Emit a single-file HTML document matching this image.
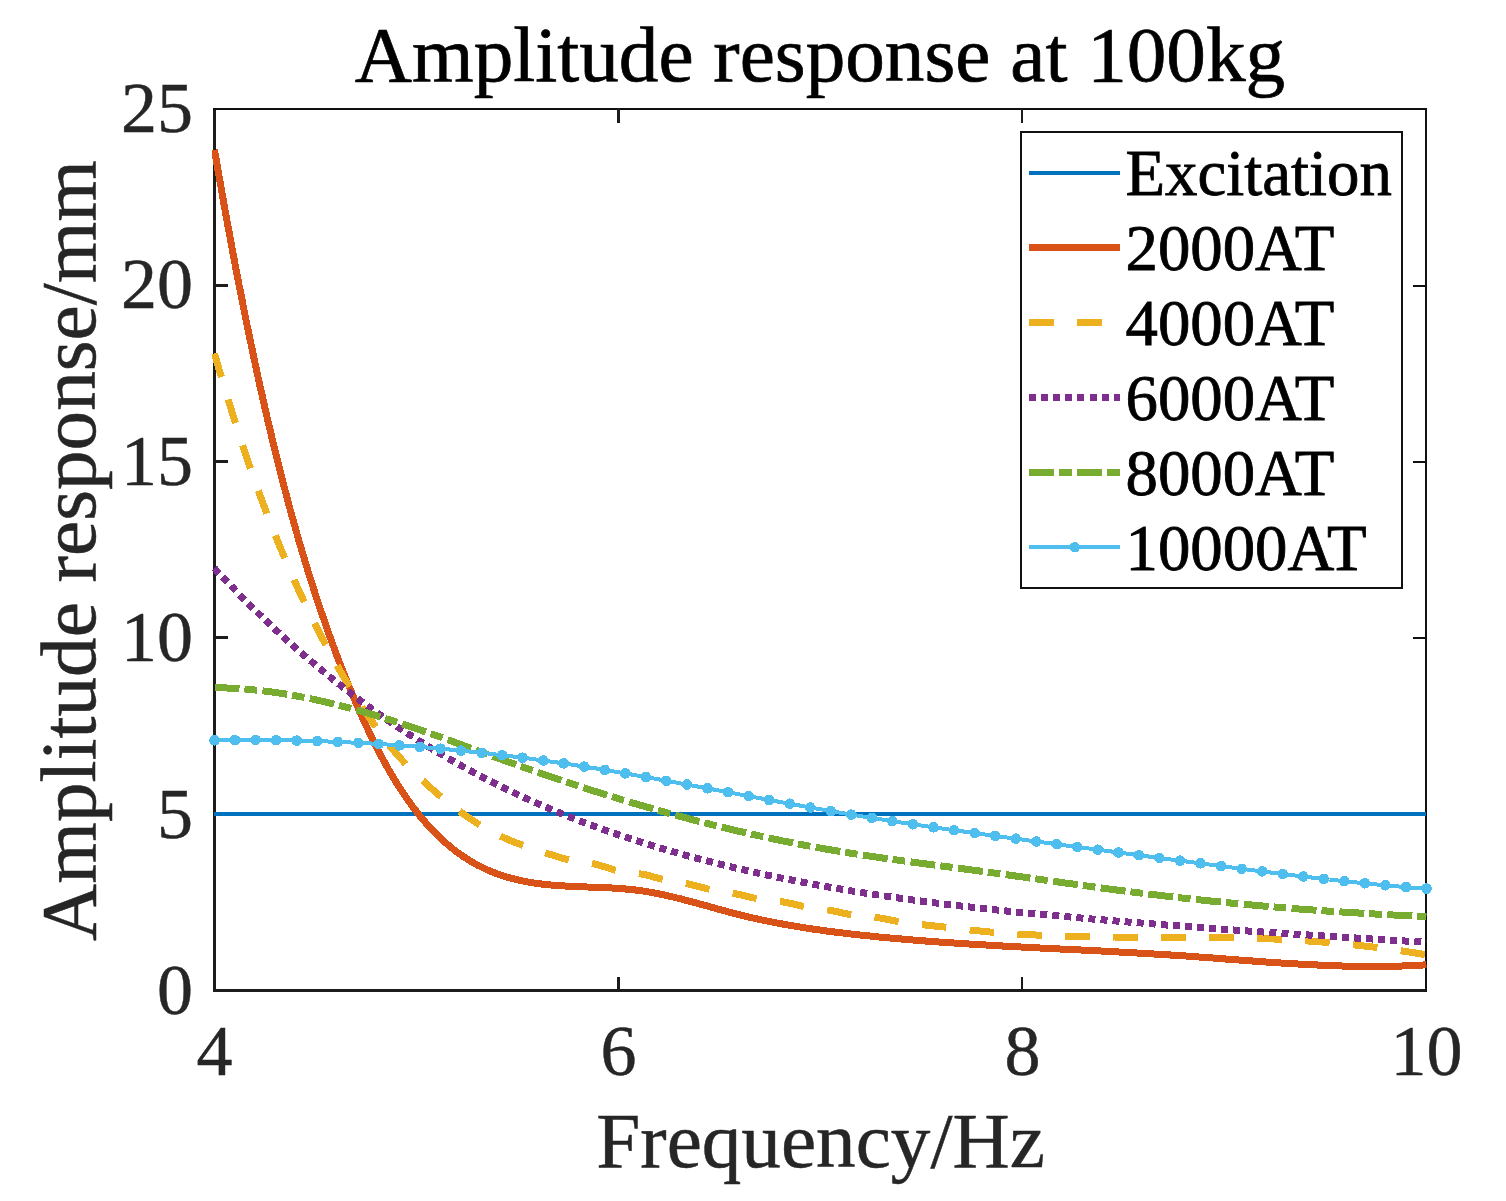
<!DOCTYPE html>
<html lang="en"><head><meta charset="utf-8"><title>Amplitude response at 100kg</title>
<style>html,body{margin:0;padding:0;background:#fff}svg{display:block}text{font-family:"Liberation Serif",serif}</style>
</head><body>
<svg width="1506" height="1201" viewBox="0 0 1506 1201">
<rect width="1506" height="1201" fill="#fff"/>
<defs><clipPath id="pc"><rect x="212" y="107" width="1214.5" height="886"/></clipPath></defs>
<g fill="#1c1c1c" shape-rendering="crispEdges">
<rect x="213" y="108" width="3" height="884"/>
<rect x="213" y="989" width="1214" height="3"/>
<rect x="213" y="108" width="1214" height="2" fill="#0f0f0f"/>
<rect x="1425" y="108" width="2" height="884" fill="#111"/>
<rect x="617" y="977" width="3" height="15"/>
<rect x="617" y="108" width="3" height="15"/>
<rect x="1021" y="977" width="2" height="15"/>
<rect x="1021" y="108" width="2" height="15"/>
<rect x="213" y="813" width="15" height="3"/>
<rect x="1413" y="814" width="14" height="2" fill="#111"/>
<rect x="213" y="636" width="15" height="3"/>
<rect x="1413" y="637" width="14" height="2" fill="#111"/>
<rect x="213" y="460" width="15" height="3"/>
<rect x="1413" y="461" width="14" height="2" fill="#111"/>
<rect x="213" y="284" width="15" height="3"/>
<rect x="1413" y="285" width="14" height="2" fill="#111"/>
</g>
<g fill="none" stroke-linejoin="round" clip-path="url(#pc)" shape-rendering="crispEdges">
<line x1="214" y1="814" x2="1426" y2="814" stroke="#0072BD" stroke-width="4"/>
<polyline points="214.5,149.8 217.5,167.4 220.6,184.8 223.6,201.9 226.6,218.8 229.7,235.3 232.7,251.6 235.7,267.6 238.7,283.3 241.8,298.7 244.8,313.9 247.8,328.8 250.9,343.4 253.9,357.8 256.9,371.8 259.9,385.7 263.0,399.2 266.0,412.5 269.0,425.6 272.1,438.4 275.1,450.9 278.1,463.2 281.2,475.2 284.2,486.9 287.2,498.4 290.2,509.7 293.3,520.7 296.3,531.5 299.3,542.1 302.4,552.4 305.4,562.5 308.4,572.4 311.5,582.1 314.5,591.5 317.5,600.8 320.6,609.9 323.6,618.7 326.6,627.4 329.6,635.9 332.7,644.3 335.7,652.4 338.7,660.4 341.8,668.3 344.8,675.9 347.8,683.5 350.9,690.8 353.9,698.0 356.9,705.1 359.9,712.0 363.0,718.8 366.0,725.4 369.0,731.8 372.1,738.1 375.1,744.2 378.1,750.2 381.1,756.0 384.2,761.6 387.2,767.0 390.2,772.3 393.3,777.5 396.3,782.4 399.3,787.3 402.4,791.9 405.4,796.4 408.4,800.7 411.4,804.9 414.5,809.0 417.5,812.9 420.5,816.7 423.6,820.3 426.6,823.8 429.6,827.1 432.7,830.4 435.7,833.5 438.7,836.5 441.8,839.3 444.8,842.1 447.8,844.7 450.8,847.3 453.9,849.7 456.9,852.0 459.9,854.2 463.0,856.3 466.0,858.3 469.0,860.2 472.1,862.0 475.1,863.8 478.1,865.4 481.1,866.9 484.2,868.4 487.2,869.8 490.2,871.1 493.3,872.3 496.3,873.5 499.3,874.6 502.3,875.6 505.4,876.6 508.4,877.5 511.4,878.3 514.5,879.1 517.5,879.8 520.5,880.5 523.6,881.1 526.6,881.7 529.6,882.3 532.6,882.8 535.7,883.2 538.7,883.6 541.7,884.0 544.8,884.4 547.8,884.7 550.8,885.0 553.9,885.2 556.9,885.5 559.9,885.7 563.0,885.9 566.0,886.1 569.0,886.2 572.0,886.4 575.1,886.5 578.1,886.6 581.1,886.7 584.2,886.8 587.2,887.0 590.2,887.1 593.2,887.2 596.3,887.3 599.3,887.4 602.3,887.5 605.4,887.7 608.4,887.8 611.4,888.0 614.5,888.1 617.5,888.3 620.5,888.6 623.5,888.8 626.6,889.1 629.6,889.3 632.6,889.7 635.7,890.0 638.7,890.4 641.7,890.8 644.8,891.3 647.8,891.8 650.8,892.3 653.8,892.9 656.9,893.5 659.9,894.1 662.9,894.7 666.0,895.4 669.0,896.1 672.0,896.8 675.1,897.5 678.1,898.3 681.1,899.0 684.1,899.8 687.2,900.6 690.2,901.4 693.2,902.2 696.3,903.0 699.3,903.9 702.3,904.7 705.4,905.5 708.4,906.4 711.4,907.2 714.5,908.1 717.5,908.9 720.5,909.7 723.5,910.6 726.6,911.4 729.6,912.2 732.6,913.0 735.7,913.8 738.7,914.6 741.7,915.3 744.8,916.1 747.8,916.8 750.8,917.5 753.8,918.2 756.9,918.9 759.9,919.5 762.9,920.2 766.0,920.8 769.0,921.4 772.0,922.0 775.0,922.6 778.1,923.2 781.1,923.8 784.1,924.3 787.2,924.9 790.2,925.4 793.2,925.9 796.3,926.4 799.3,926.9 802.3,927.4 805.3,927.9 808.4,928.4 811.4,928.8 814.4,929.3 817.5,929.7 820.5,930.1 823.5,930.6 826.6,931.0 829.6,931.4 832.6,931.8 835.6,932.1 838.7,932.5 841.7,932.9 844.7,933.2 847.8,933.6 850.8,934.0 853.8,934.3 856.9,934.6 859.9,935.0 862.9,935.3 865.9,935.6 869.0,935.9 872.0,936.2 875.0,936.6 878.1,936.9 881.1,937.2 884.1,937.4 887.2,937.7 890.2,938.0 893.2,938.3 896.2,938.6 899.3,938.8 902.3,939.1 905.3,939.4 908.4,939.6 911.4,939.9 914.4,940.1 917.5,940.4 920.5,940.6 923.5,940.8 926.5,941.1 929.6,941.3 932.6,941.5 935.6,941.8 938.7,942.0 941.7,942.2 944.7,942.4 947.8,942.6 950.8,942.8 953.8,943.0 956.8,943.2 959.9,943.4 962.9,943.6 965.9,943.8 969.0,944.0 972.0,944.2 975.0,944.4 978.1,944.6 981.1,944.8 984.1,944.9 987.1,945.1 990.2,945.3 993.2,945.5 996.2,945.6 999.3,945.8 1002.3,946.0 1005.3,946.2 1008.4,946.3 1011.4,946.5 1014.4,946.6 1017.4,946.8 1020.5,947.0 1023.5,947.1 1026.5,947.3 1029.6,947.4 1032.6,947.6 1035.6,947.7 1038.7,947.9 1041.7,948.1 1044.7,948.2 1047.8,948.4 1050.8,948.5 1053.8,948.7 1056.8,948.8 1059.9,949.0 1062.9,949.1 1065.9,949.3 1069.0,949.4 1072.0,949.6 1075.0,949.7 1078.0,949.9 1081.1,950.0 1084.1,950.2 1087.1,950.3 1090.2,950.5 1093.2,950.6 1096.2,950.8 1099.3,950.9 1102.3,951.1 1105.3,951.3 1108.3,951.4 1111.4,951.6 1114.4,951.7 1117.4,951.9 1120.5,952.1 1123.5,952.2 1126.5,952.4 1129.6,952.6 1132.6,952.7 1135.6,952.9 1138.7,953.1 1141.7,953.2 1144.7,953.4 1147.7,953.6 1150.8,953.8 1153.8,954.0 1156.8,954.2 1159.9,954.3 1162.9,954.5 1165.9,954.7 1168.9,954.9 1172.0,955.1 1175.0,955.3 1178.0,955.5 1181.1,955.7 1184.1,955.9 1187.1,956.1 1190.2,956.4 1193.2,956.6 1196.2,956.8 1199.2,957.0 1202.3,957.2 1205.3,957.5 1208.3,957.7 1211.4,957.9 1214.4,958.1 1217.4,958.4 1220.5,958.6 1223.5,958.8 1226.5,959.1 1229.5,959.3 1232.6,959.5 1235.6,959.7 1238.6,960.0 1241.7,960.2 1244.7,960.4 1247.7,960.6 1250.8,960.9 1253.8,961.1 1256.8,961.3 1259.8,961.5 1262.9,961.7 1265.9,962.0 1268.9,962.2 1272.0,962.4 1275.0,962.6 1278.0,962.8 1281.1,963.0 1284.1,963.2 1287.1,963.4 1290.1,963.6 1293.2,963.7 1296.2,963.9 1299.2,964.1 1302.3,964.3 1305.3,964.4 1308.3,964.6 1311.4,964.8 1314.4,964.9 1317.4,965.0 1320.4,965.2 1323.5,965.3 1326.5,965.4 1329.5,965.6 1332.6,965.7 1335.6,965.8 1338.6,965.9 1341.7,966.0 1344.7,966.1 1347.7,966.1 1350.8,966.2 1353.8,966.3 1356.8,966.3 1359.8,966.4 1362.9,966.4 1365.9,966.4 1368.9,966.4 1372.0,966.5 1375.0,966.5 1378.0,966.5 1381.0,966.4 1384.1,966.4 1387.1,966.4 1390.1,966.3 1393.2,966.3 1396.2,966.2 1399.2,966.1 1402.3,966.0 1405.3,965.9 1408.3,965.8 1411.3,965.7 1414.4,965.5 1417.4,965.4 1420.4,965.2 1423.5,965.0 1426.5,964.9" stroke="#D95319" stroke-width="7"/>
<polyline points="214.5,353.5 217.5,364.1 220.6,374.5 223.6,384.7 226.6,394.8 229.7,404.7 232.7,414.4 235.7,424.0 238.7,433.4 241.8,442.7 244.8,451.8 247.8,460.7 250.9,469.5 253.9,478.2 256.9,486.7 259.9,495.0 263.0,503.2 266.0,511.3 269.0,519.2 272.1,527.0 275.1,534.7 278.1,542.3 281.2,549.7 284.2,556.9 287.2,564.1 290.2,571.1 293.3,578.0 296.3,584.8 299.3,591.5 302.4,598.0 305.4,604.5 308.4,610.8 311.5,617.0 314.5,623.1 317.5,629.1 320.6,635.0 323.6,640.8 326.6,646.5 329.6,652.2 332.7,657.7 335.7,663.1 338.7,668.4 341.8,673.7 344.8,678.8 347.8,683.9 350.9,688.9 353.9,693.8 356.9,698.6 359.9,703.4 363.0,708.1 366.0,712.7 369.0,717.2 372.1,721.7 375.1,726.1 378.1,730.3 381.1,734.5 384.2,738.6 387.2,742.5 390.2,746.3 393.3,750.0 396.3,753.6 399.3,757.0 402.4,760.4 405.4,763.6 408.4,766.8 411.4,769.8 414.5,772.8 417.5,775.7 420.5,778.6 423.6,781.4 426.6,784.2 429.6,786.9 432.7,789.6 435.7,792.2 438.7,794.8 441.8,797.3 444.8,799.8 447.8,802.3 450.8,804.7 453.9,807.0 456.9,809.3 459.9,811.5 463.0,813.7 466.0,815.9 469.0,817.9 472.1,820.0 475.1,821.9 478.1,823.8 481.1,825.7 484.2,827.5 487.2,829.2 490.2,830.9 493.3,832.5 496.3,834.1 499.3,835.6 502.3,837.0 505.4,838.4 508.4,839.7 511.4,841.0 514.5,842.2 517.5,843.4 520.5,844.5 523.6,845.6 526.6,846.7 529.6,847.7 532.6,848.7 535.7,849.7 538.7,850.7 541.7,851.7 544.8,852.7 547.8,853.7 550.8,854.6 553.9,855.6 556.9,856.6 559.9,857.5 563.0,858.3 566.0,859.1 569.0,859.8 572.0,860.5 575.1,861.0 578.1,861.4 581.1,861.8 584.2,862.2 587.2,862.6 590.2,863.1 593.2,863.7 596.3,864.4 599.3,865.3 602.3,866.2 605.4,867.1 608.4,868.1 611.4,869.0 614.5,869.9 617.5,870.7 620.5,871.3 623.5,871.8 626.6,872.2 629.6,872.5 632.6,872.9 635.7,873.2 638.7,873.6 641.7,874.1 644.8,874.7 647.8,875.4 650.8,876.2 653.8,877.0 656.9,877.8 659.9,878.6 662.9,879.4 666.0,880.1 669.0,880.7 672.0,881.2 675.1,881.7 678.1,882.1 681.1,882.6 684.1,883.1 687.2,883.7 690.2,884.3 693.2,885.1 696.3,885.9 699.3,886.7 702.3,887.5 705.4,888.4 708.4,889.1 711.4,889.9 714.5,890.5 717.5,891.0 720.5,891.5 723.5,891.9 726.6,892.4 729.6,892.8 732.6,893.3 735.7,893.8 738.7,894.4 741.7,895.1 744.8,895.8 747.8,896.6 750.8,897.3 753.8,898.0 756.9,898.6 759.9,899.2 762.9,899.6 766.0,900.0 769.0,900.3 772.0,900.6 775.0,900.9 778.1,901.2 781.1,901.6 784.1,902.1 787.2,902.7 790.2,903.3 793.2,904.0 796.3,904.7 799.3,905.5 802.3,906.2 805.3,906.8 808.4,907.4 811.4,907.9 814.4,908.3 817.5,908.7 820.5,909.0 823.5,909.4 826.6,909.8 829.6,910.3 832.6,910.8 835.6,911.5 838.7,912.1 841.7,912.8 844.7,913.4 847.8,914.1 850.8,914.6 853.8,915.2 856.9,915.6 859.9,916.0 862.9,916.3 865.9,916.5 869.0,916.8 872.0,917.0 875.0,917.4 878.1,917.7 881.1,918.2 884.1,918.7 887.2,919.3 890.2,919.9 893.2,920.5 896.2,921.1 899.3,921.6 902.3,922.2 905.3,922.6 908.4,923.1 911.4,923.5 914.4,923.8 917.5,924.1 920.5,924.5 923.5,924.8 926.5,925.1 929.6,925.4 932.6,925.8 935.6,926.1 938.7,926.4 941.7,926.8 944.7,927.1 947.8,927.5 950.8,927.8 953.8,928.2 956.8,928.5 959.9,928.9 962.9,929.2 965.9,929.6 969.0,929.9 972.0,930.2 975.0,930.5 978.1,930.8 981.1,931.1 984.1,931.4 987.1,931.7 990.2,932.0 993.2,932.2 996.2,932.5 999.3,932.7 1002.3,932.9 1005.3,933.2 1008.4,933.4 1011.4,933.6 1014.4,933.8 1017.4,934.0 1020.5,934.2 1023.5,934.4 1026.5,934.5 1029.6,934.7 1032.6,934.9 1035.6,935.0 1038.7,935.2 1041.7,935.3 1044.7,935.4 1047.8,935.6 1050.8,935.7 1053.8,935.8 1056.8,935.9 1059.9,936.0 1062.9,936.1 1065.9,936.2 1069.0,936.3 1072.0,936.4 1075.0,936.4 1078.0,936.5 1081.1,936.6 1084.1,936.6 1087.1,936.7 1090.2,936.8 1093.2,936.8 1096.2,936.8 1099.3,936.9 1102.3,936.9 1105.3,937.0 1108.3,937.0 1111.4,937.0 1114.4,937.0 1117.4,937.1 1120.5,937.1 1123.5,937.1 1126.5,937.1 1129.6,937.1 1132.6,937.1 1135.6,937.1 1138.7,937.2 1141.7,937.2 1144.7,937.2 1147.7,937.2 1150.8,937.2 1153.8,937.2 1156.8,937.2 1159.9,937.2 1162.9,937.2 1165.9,937.2 1168.9,937.2 1172.0,937.2 1175.0,937.2 1178.0,937.2 1181.1,937.2 1184.1,937.2 1187.1,937.3 1190.2,937.3 1193.2,937.3 1196.2,937.3 1199.2,937.3 1202.3,937.3 1205.3,937.4 1208.3,937.4 1211.4,937.4 1214.4,937.5 1217.4,937.5 1220.5,937.5 1223.5,937.6 1226.5,937.6 1229.5,937.7 1232.6,937.7 1235.6,937.8 1238.6,937.9 1241.7,937.9 1244.7,938.0 1247.7,938.1 1250.8,938.2 1253.8,938.3 1256.8,938.4 1259.8,938.5 1262.9,938.6 1265.9,938.7 1268.9,938.8 1272.0,938.9 1275.0,939.1 1278.0,939.2 1281.1,939.4 1284.1,939.5 1287.1,939.7 1290.1,939.8 1293.2,940.0 1296.2,940.2 1299.2,940.4 1302.3,940.6 1305.3,940.8 1308.3,941.0 1311.4,941.2 1314.4,941.4 1317.4,941.6 1320.4,941.9 1323.5,942.1 1326.5,942.3 1329.5,942.6 1332.6,942.9 1335.6,943.1 1338.6,943.4 1341.7,943.7 1344.7,944.0 1347.7,944.3 1350.8,944.6 1353.8,944.9 1356.8,945.2 1359.8,945.6 1362.9,945.9 1365.9,946.2 1368.9,946.6 1372.0,946.9 1375.0,947.3 1378.0,947.7 1381.0,948.1 1384.1,948.5 1387.1,948.9 1390.1,949.3 1393.2,949.7 1396.2,950.1 1399.2,950.5 1402.3,951.0 1405.3,951.4 1408.3,951.9 1411.3,952.4 1414.4,952.8 1417.4,953.3 1420.4,953.8 1423.5,954.3 1426.5,954.8" stroke="#EDB120" stroke-width="7" stroke-dasharray="24.5 23.5"/>
<polyline points="214.5,568.3 217.5,571.6 220.6,574.8 223.6,578.0 226.6,581.2 229.7,584.4 232.7,587.5 235.7,590.7 238.7,593.8 241.8,596.9 244.8,599.9 247.8,603.0 250.9,606.0 253.9,609.0 256.9,611.9 259.9,614.9 263.0,617.8 266.0,620.7 269.0,623.6 272.1,626.4 275.1,629.3 278.1,632.1 281.2,634.9 284.2,637.6 287.2,640.4 290.2,643.1 293.3,645.8 296.3,648.5 299.3,651.2 302.4,653.8 305.4,656.4 308.4,659.0 311.5,661.6 314.5,664.2 317.5,666.7 320.6,669.2 323.6,671.7 326.6,674.2 329.6,676.7 332.7,679.1 335.7,681.5 338.7,683.9 341.8,686.3 344.8,688.7 347.8,691.0 350.9,693.4 353.9,695.7 356.9,697.9 359.9,700.2 363.0,702.5 366.0,704.7 369.0,706.9 372.1,709.1 375.1,711.3 378.1,713.4 381.1,715.5 384.2,717.7 387.2,719.8 390.2,721.8 393.3,723.9 396.3,725.9 399.3,728.0 402.4,730.0 405.4,732.0 408.4,734.0 411.4,735.9 414.5,737.9 417.5,739.8 420.5,741.7 423.6,743.6 426.6,745.5 429.6,747.3 432.7,749.2 435.7,751.0 438.7,752.8 441.8,754.6 444.8,756.4 447.8,758.1 450.8,759.9 453.9,761.6 456.9,763.3 459.9,765.0 463.0,766.7 466.0,768.4 469.0,770.0 472.1,771.7 475.1,773.3 478.1,774.9 481.1,776.5 484.2,778.1 487.2,779.6 490.2,781.2 493.3,782.7 496.3,784.2 499.3,785.7 502.3,787.2 505.4,788.7 508.4,790.2 511.4,791.6 514.5,793.0 517.5,794.5 520.5,795.9 523.6,797.3 526.6,798.7 529.6,800.0 532.6,801.4 535.7,802.7 538.7,804.1 541.7,805.4 544.8,806.7 547.8,808.0 550.8,809.3 553.9,810.5 556.9,811.8 559.9,813.0 563.0,814.3 566.0,815.5 569.0,816.7 572.0,817.9 575.1,819.1 578.1,820.2 581.1,821.4 584.2,822.5 587.2,823.7 590.2,824.8 593.2,825.9 596.3,827.0 599.3,828.1 602.3,829.2 605.4,830.3 608.4,831.4 611.4,832.4 614.5,833.5 617.5,834.5 620.5,835.5 623.5,836.5 626.6,837.5 629.6,838.5 632.6,839.5 635.7,840.5 638.7,841.5 641.7,842.4 644.8,843.4 647.8,844.3 650.8,845.2 653.8,846.1 656.9,847.1 659.9,848.0 662.9,848.9 666.0,849.7 669.0,850.6 672.0,851.5 675.1,852.3 678.1,853.2 681.1,854.0 684.1,854.9 687.2,855.7 690.2,856.5 693.2,857.3 696.3,858.1 699.3,858.9 702.3,859.7 705.4,860.5 708.4,861.3 711.4,862.1 714.5,862.8 717.5,863.6 720.5,864.3 723.5,865.1 726.6,865.8 729.6,866.6 732.6,867.3 735.7,868.0 738.7,868.7 741.7,869.4 744.8,870.1 747.8,870.8 750.8,871.5 753.8,872.2 756.9,872.8 759.9,873.5 762.9,874.2 766.0,874.8 769.0,875.5 772.0,876.1 775.0,876.7 778.1,877.4 781.1,878.0 784.1,878.6 787.2,879.2 790.2,879.8 793.2,880.4 796.3,881.0 799.3,881.6 802.3,882.2 805.3,882.7 808.4,883.3 811.4,883.9 814.4,884.4 817.5,885.0 820.5,885.6 823.5,886.1 826.6,886.6 829.6,887.2 832.6,887.7 835.6,888.2 838.7,888.7 841.7,889.3 844.7,889.8 847.8,890.3 850.8,890.8 853.8,891.3 856.9,891.7 859.9,892.2 862.9,892.7 865.9,893.2 869.0,893.7 872.0,894.1 875.0,894.6 878.1,895.0 881.1,895.5 884.1,895.9 887.2,896.4 890.2,896.8 893.2,897.3 896.2,897.7 899.3,898.1 902.3,898.6 905.3,899.0 908.4,899.4 911.4,899.8 914.4,900.2 917.5,900.6 920.5,901.0 923.5,901.4 926.5,901.8 929.6,902.2 932.6,902.6 935.6,903.0 938.7,903.3 941.7,903.7 944.7,904.1 947.8,904.4 950.8,904.8 953.8,905.2 956.8,905.5 959.9,905.9 962.9,906.2 965.9,906.6 969.0,906.9 972.0,907.3 975.0,907.6 978.1,908.0 981.1,908.3 984.1,908.6 987.1,908.9 990.2,909.3 993.2,909.6 996.2,909.9 999.3,910.2 1002.3,910.5 1005.3,910.9 1008.4,911.2 1011.4,911.5 1014.4,911.8 1017.4,912.1 1020.5,912.4 1023.5,912.7 1026.5,913.0 1029.6,913.3 1032.6,913.6 1035.6,913.9 1038.7,914.2 1041.7,914.4 1044.7,914.7 1047.8,915.0 1050.8,915.3 1053.8,915.6 1056.8,915.8 1059.9,916.1 1062.9,916.4 1065.9,916.7 1069.0,916.9 1072.0,917.2 1075.0,917.5 1078.0,917.7 1081.1,918.0 1084.1,918.3 1087.1,918.5 1090.2,918.8 1093.2,919.1 1096.2,919.3 1099.3,919.6 1102.3,919.8 1105.3,920.1 1108.3,920.4 1111.4,920.6 1114.4,920.9 1117.4,921.1 1120.5,921.4 1123.5,921.6 1126.5,921.9 1129.6,922.1 1132.6,922.4 1135.6,922.6 1138.7,922.8 1141.7,923.1 1144.7,923.3 1147.7,923.6 1150.8,923.8 1153.8,924.0 1156.8,924.3 1159.9,924.5 1162.9,924.8 1165.9,925.0 1168.9,925.2 1172.0,925.5 1175.0,925.7 1178.0,925.9 1181.1,926.1 1184.1,926.4 1187.1,926.6 1190.2,926.8 1193.2,927.1 1196.2,927.3 1199.2,927.5 1202.3,927.7 1205.3,927.9 1208.3,928.2 1211.4,928.4 1214.4,928.6 1217.4,928.8 1220.5,929.0 1223.5,929.3 1226.5,929.5 1229.5,929.7 1232.6,929.9 1235.6,930.1 1238.6,930.3 1241.7,930.5 1244.7,930.8 1247.7,931.0 1250.8,931.2 1253.8,931.4 1256.8,931.6 1259.8,931.8 1262.9,932.0 1265.9,932.2 1268.9,932.4 1272.0,932.6 1275.0,932.8 1278.0,933.0 1281.1,933.2 1284.1,933.4 1287.1,933.6 1290.1,933.8 1293.2,934.0 1296.2,934.2 1299.2,934.4 1302.3,934.6 1305.3,934.8 1308.3,935.0 1311.4,935.2 1314.4,935.4 1317.4,935.6 1320.4,935.8 1323.5,936.0 1326.5,936.2 1329.5,936.4 1332.6,936.6 1335.6,936.8 1338.6,937.0 1341.7,937.2 1344.7,937.3 1347.7,937.5 1350.8,937.7 1353.8,937.9 1356.8,938.1 1359.8,938.3 1362.9,938.5 1365.9,938.7 1368.9,938.8 1372.0,939.0 1375.0,939.2 1378.0,939.4 1381.0,939.6 1384.1,939.8 1387.1,940.0 1390.1,940.1 1393.2,940.3 1396.2,940.5 1399.2,940.7 1402.3,940.9 1405.3,941.0 1408.3,941.2 1411.3,941.4 1414.4,941.6 1417.4,941.8 1420.4,941.9 1423.5,942.1 1426.5,942.3" stroke="#7E2F8E" stroke-width="7" stroke-dasharray="7 5.1"/>
<polyline points="214.5,687.7 217.5,687.7 220.6,687.8 223.6,687.9 226.6,688.0 229.7,688.1 232.7,688.2 235.7,688.4 238.7,688.6 241.8,688.8 244.8,689.0 247.8,689.3 250.9,689.6 253.9,689.9 256.9,690.2 259.9,690.5 263.0,690.9 266.0,691.2 269.0,691.6 272.1,692.0 275.1,692.5 278.1,692.9 281.2,693.4 284.2,693.8 287.2,694.3 290.2,694.8 293.3,695.4 296.3,695.9 299.3,696.5 302.4,697.1 305.4,697.7 308.4,698.3 311.5,698.9 314.5,699.5 317.5,700.2 320.6,700.9 323.6,701.6 326.6,702.3 329.6,703.0 332.7,703.7 335.7,704.5 338.7,705.2 341.8,706.0 344.8,706.8 347.8,707.6 350.9,708.4 353.9,709.2 356.9,710.1 359.9,710.9 363.0,711.8 366.0,712.6 369.0,713.5 372.1,714.4 375.1,715.3 378.1,716.3 381.1,717.2 384.2,718.1 387.2,719.1 390.2,720.0 393.3,721.0 396.3,722.0 399.3,723.0 402.4,724.0 405.4,725.0 408.4,726.0 411.4,727.0 414.5,728.0 417.5,729.1 420.5,730.1 423.6,731.2 426.6,732.2 429.6,733.3 432.7,734.4 435.7,735.4 438.7,736.5 441.8,737.6 444.8,738.7 447.8,739.8 450.8,740.9 453.9,742.0 456.9,743.1 459.9,744.2 463.0,745.4 466.0,746.5 469.0,747.6 472.1,748.7 475.1,749.8 478.1,750.9 481.1,752.0 484.2,753.1 487.2,754.3 490.2,755.4 493.3,756.5 496.3,757.6 499.3,758.7 502.3,759.8 505.4,760.9 508.4,762.0 511.4,763.0 514.5,764.1 517.5,765.2 520.5,766.3 523.6,767.3 526.6,768.4 529.6,769.5 532.6,770.5 535.7,771.6 538.7,772.6 541.7,773.7 544.8,774.7 547.8,775.7 550.8,776.8 553.9,777.8 556.9,778.8 559.9,779.8 563.0,780.9 566.0,781.9 569.0,782.9 572.0,783.9 575.1,784.9 578.1,785.9 581.1,786.8 584.2,787.8 587.2,788.8 590.2,789.8 593.2,790.8 596.3,791.7 599.3,792.7 602.3,793.6 605.4,794.6 608.4,795.5 611.4,796.5 614.5,797.4 617.5,798.3 620.5,799.3 623.5,800.2 626.6,801.1 629.6,802.0 632.6,802.9 635.7,803.8 638.7,804.7 641.7,805.6 644.8,806.5 647.8,807.4 650.8,808.2 653.8,809.1 656.9,810.0 659.9,810.8 662.9,811.7 666.0,812.5 669.0,813.4 672.0,814.2 675.1,815.0 678.1,815.9 681.1,816.7 684.1,817.5 687.2,818.3 690.2,819.1 693.2,819.9 696.3,820.7 699.3,821.5 702.3,822.3 705.4,823.1 708.4,823.8 711.4,824.6 714.5,825.4 717.5,826.1 720.5,826.9 723.5,827.6 726.6,828.3 729.6,829.1 732.6,829.8 735.7,830.5 738.7,831.2 741.7,831.9 744.8,832.6 747.8,833.3 750.8,834.0 753.8,834.7 756.9,835.4 759.9,836.0 762.9,836.7 766.0,837.4 769.0,838.0 772.0,838.7 775.0,839.3 778.1,839.9 781.1,840.6 784.1,841.2 787.2,841.8 790.2,842.4 793.2,843.0 796.3,843.6 799.3,844.2 802.3,844.8 805.3,845.3 808.4,845.9 811.4,846.5 814.4,847.0 817.5,847.6 820.5,848.1 823.5,848.7 826.6,849.2 829.6,849.7 832.6,850.2 835.6,850.7 838.7,851.2 841.7,851.7 844.7,852.2 847.8,852.7 850.8,853.2 853.8,853.7 856.9,854.1 859.9,854.6 862.9,855.1 865.9,855.5 869.0,856.0 872.0,856.4 875.0,856.9 878.1,857.3 881.1,857.8 884.1,858.2 887.2,858.6 890.2,859.1 893.2,859.5 896.2,859.9 899.3,860.3 902.3,860.8 905.3,861.2 908.4,861.6 911.4,862.0 914.4,862.4 917.5,862.8 920.5,863.2 923.5,863.6 926.5,864.0 929.6,864.4 932.6,864.8 935.6,865.2 938.7,865.6 941.7,866.0 944.7,866.4 947.8,866.8 950.8,867.2 953.8,867.6 956.8,868.0 959.9,868.4 962.9,868.8 965.9,869.2 969.0,869.6 972.0,870.0 975.0,870.4 978.1,870.8 981.1,871.3 984.1,871.7 987.1,872.1 990.2,872.5 993.2,872.9 996.2,873.3 999.3,873.7 1002.3,874.2 1005.3,874.6 1008.4,875.0 1011.4,875.4 1014.4,875.8 1017.4,876.3 1020.5,876.7 1023.5,877.1 1026.5,877.5 1029.6,878.0 1032.6,878.4 1035.6,878.8 1038.7,879.2 1041.7,879.7 1044.7,880.1 1047.8,880.5 1050.8,881.0 1053.8,881.4 1056.8,881.8 1059.9,882.2 1062.9,882.7 1065.9,883.1 1069.0,883.5 1072.0,883.9 1075.0,884.3 1078.0,884.8 1081.1,885.2 1084.1,885.6 1087.1,886.0 1090.2,886.4 1093.2,886.8 1096.2,887.3 1099.3,887.7 1102.3,888.1 1105.3,888.5 1108.3,888.9 1111.4,889.3 1114.4,889.7 1117.4,890.1 1120.5,890.5 1123.5,890.9 1126.5,891.3 1129.6,891.7 1132.6,892.1 1135.6,892.4 1138.7,892.8 1141.7,893.2 1144.7,893.6 1147.7,893.9 1150.8,894.3 1153.8,894.7 1156.8,895.0 1159.9,895.4 1162.9,895.8 1165.9,896.1 1168.9,896.5 1172.0,896.8 1175.0,897.2 1178.0,897.5 1181.1,897.9 1184.1,898.2 1187.1,898.5 1190.2,898.9 1193.2,899.2 1196.2,899.5 1199.2,899.8 1202.3,900.2 1205.3,900.5 1208.3,900.8 1211.4,901.1 1214.4,901.4 1217.4,901.7 1220.5,902.0 1223.5,902.3 1226.5,902.6 1229.5,902.9 1232.6,903.2 1235.6,903.5 1238.6,903.8 1241.7,904.1 1244.7,904.4 1247.7,904.6 1250.8,904.9 1253.8,905.2 1256.8,905.5 1259.8,905.7 1262.9,906.0 1265.9,906.3 1268.9,906.5 1272.0,906.8 1275.0,907.0 1278.0,907.3 1281.1,907.5 1284.1,907.8 1287.1,908.0 1290.1,908.3 1293.2,908.5 1296.2,908.8 1299.2,909.0 1302.3,909.2 1305.3,909.4 1308.3,909.7 1311.4,909.9 1314.4,910.1 1317.4,910.3 1320.4,910.6 1323.5,910.8 1326.5,911.0 1329.5,911.2 1332.6,911.4 1335.6,911.6 1338.6,911.8 1341.7,912.0 1344.7,912.2 1347.7,912.4 1350.8,912.6 1353.8,912.8 1356.8,912.9 1359.8,913.1 1362.9,913.3 1365.9,913.5 1368.9,913.7 1372.0,913.8 1375.0,914.0 1378.0,914.2 1381.0,914.3 1384.1,914.5 1387.1,914.6 1390.1,914.8 1393.2,915.0 1396.2,915.1 1399.2,915.3 1402.3,915.4 1405.3,915.5 1408.3,915.7 1411.3,915.8 1414.4,916.0 1417.4,916.1 1420.4,916.2 1423.5,916.4 1426.5,916.5" stroke="#77AC30" stroke-width="7" stroke-dasharray="25 5 12.5 5.5"/>
<polyline points="214.5,740.3 217.5,740.3 220.6,740.2 223.6,740.2 226.6,740.1 229.7,740.1 232.7,740.1 235.7,740.1 238.7,740.1 241.8,740.0 244.8,740.0 247.8,740.0 250.9,740.0 253.9,740.0 256.9,740.0 259.9,740.1 263.0,740.1 266.0,740.1 269.0,740.1 272.1,740.1 275.1,740.2 278.1,740.2 281.2,740.3 284.2,740.3 287.2,740.4 290.2,740.4 293.3,740.5 296.3,740.5 299.3,740.6 302.4,740.7 305.4,740.8 308.4,740.9 311.5,740.9 314.5,741.0 317.5,741.1 320.6,741.2 323.6,741.3 326.6,741.4 329.6,741.6 332.7,741.7 335.7,741.8 338.7,741.9 341.8,742.1 344.8,742.2 347.8,742.3 350.9,742.5 353.9,742.6 356.9,742.8 359.9,742.9 363.0,743.1 366.0,743.3 369.0,743.4 372.1,743.6 375.1,743.8 378.1,744.0 381.1,744.1 384.2,744.3 387.2,744.5 390.2,744.7 393.3,744.9 396.3,745.1 399.3,745.4 402.4,745.6 405.4,745.8 408.4,746.0 411.4,746.3 414.5,746.5 417.5,746.7 420.5,747.0 423.6,747.2 426.6,747.5 429.6,747.7 432.7,748.0 435.7,748.3 438.7,748.5 441.8,748.8 444.8,749.1 447.8,749.4 450.8,749.6 453.9,749.9 456.9,750.2 459.9,750.5 463.0,750.8 466.0,751.1 469.0,751.5 472.1,751.8 475.1,752.1 478.1,752.4 481.1,752.8 484.2,753.1 487.2,753.4 490.2,753.8 493.3,754.1 496.3,754.5 499.3,754.8 502.3,755.2 505.4,755.6 508.4,755.9 511.4,756.3 514.5,756.7 517.5,757.1 520.5,757.4 523.6,757.8 526.6,758.2 529.6,758.6 532.6,759.0 535.7,759.5 538.7,759.9 541.7,760.3 544.8,760.7 547.8,761.1 550.8,761.6 553.9,762.0 556.9,762.4 559.9,762.9 563.0,763.3 566.0,763.8 569.0,764.2 572.0,764.7 575.1,765.2 578.1,765.6 581.1,766.1 584.2,766.6 587.2,767.1 590.2,767.6 593.2,768.0 596.3,768.5 599.3,769.0 602.3,769.5 605.4,770.0 608.4,770.5 611.4,771.0 614.5,771.6 617.5,772.1 620.5,772.6 623.5,773.1 626.6,773.6 629.6,774.2 632.6,774.7 635.7,775.2 638.7,775.8 641.7,776.3 644.8,776.8 647.8,777.4 650.8,777.9 653.8,778.5 656.9,779.0 659.9,779.6 662.9,780.1 666.0,780.7 669.0,781.2 672.0,781.8 675.1,782.3 678.1,782.9 681.1,783.5 684.1,784.0 687.2,784.6 690.2,785.1 693.2,785.7 696.3,786.3 699.3,786.8 702.3,787.4 705.4,788.0 708.4,788.5 711.4,789.1 714.5,789.7 717.5,790.3 720.5,790.8 723.5,791.4 726.6,792.0 729.6,792.5 732.6,793.1 735.7,793.7 738.7,794.2 741.7,794.8 744.8,795.4 747.8,796.0 750.8,796.5 753.8,797.1 756.9,797.7 759.9,798.2 762.9,798.8 766.0,799.4 769.0,799.9 772.0,800.5 775.0,801.1 778.1,801.6 781.1,802.2 784.1,802.7 787.2,803.3 790.2,803.8 793.2,804.4 796.3,804.9 799.3,805.5 802.3,806.0 805.3,806.6 808.4,807.1 811.4,807.7 814.4,808.2 817.5,808.8 820.5,809.3 823.5,809.8 826.6,810.4 829.6,810.9 832.6,811.4 835.6,811.9 838.7,812.4 841.7,813.0 844.7,813.5 847.8,814.0 850.8,814.5 853.8,815.0 856.9,815.5 859.9,816.0 862.9,816.5 865.9,817.0 869.0,817.5 872.0,818.0 875.0,818.4 878.1,818.9 881.1,819.4 884.1,819.9 887.2,820.3 890.2,820.8 893.2,821.3 896.2,821.7 899.3,822.2 902.3,822.7 905.3,823.1 908.4,823.6 911.4,824.0 914.4,824.5 917.5,824.9 920.5,825.4 923.5,825.8 926.5,826.3 929.6,826.7 932.6,827.1 935.6,827.6 938.7,828.0 941.7,828.5 944.7,828.9 947.8,829.3 950.8,829.7 953.8,830.2 956.8,830.6 959.9,831.0 962.9,831.4 965.9,831.9 969.0,832.3 972.0,832.7 975.0,833.1 978.1,833.6 981.1,834.0 984.1,834.4 987.1,834.8 990.2,835.2 993.2,835.6 996.2,836.0 999.3,836.5 1002.3,836.9 1005.3,837.3 1008.4,837.7 1011.4,838.1 1014.4,838.5 1017.4,838.9 1020.5,839.3 1023.5,839.7 1026.5,840.2 1029.6,840.6 1032.6,841.0 1035.6,841.4 1038.7,841.8 1041.7,842.2 1044.7,842.6 1047.8,843.0 1050.8,843.4 1053.8,843.8 1056.8,844.2 1059.9,844.6 1062.9,845.1 1065.9,845.5 1069.0,845.9 1072.0,846.3 1075.0,846.7 1078.0,847.1 1081.1,847.5 1084.1,847.9 1087.1,848.3 1090.2,848.7 1093.2,849.1 1096.2,849.5 1099.3,849.9 1102.3,850.3 1105.3,850.7 1108.3,851.1 1111.4,851.5 1114.4,851.9 1117.4,852.3 1120.5,852.8 1123.5,853.2 1126.5,853.6 1129.6,854.0 1132.6,854.4 1135.6,854.8 1138.7,855.2 1141.7,855.6 1144.7,856.0 1147.7,856.4 1150.8,856.8 1153.8,857.2 1156.8,857.6 1159.9,858.0 1162.9,858.4 1165.9,858.8 1168.9,859.2 1172.0,859.6 1175.0,860.0 1178.0,860.4 1181.1,860.8 1184.1,861.2 1187.1,861.6 1190.2,862.0 1193.2,862.4 1196.2,862.8 1199.2,863.2 1202.3,863.6 1205.3,864.0 1208.3,864.4 1211.4,864.8 1214.4,865.2 1217.4,865.6 1220.5,866.0 1223.5,866.4 1226.5,866.8 1229.5,867.2 1232.6,867.6 1235.6,868.0 1238.6,868.4 1241.7,868.8 1244.7,869.2 1247.7,869.6 1250.8,870.0 1253.8,870.4 1256.8,870.7 1259.8,871.1 1262.9,871.5 1265.9,871.9 1268.9,872.3 1272.0,872.7 1275.0,873.1 1278.0,873.4 1281.1,873.8 1284.1,874.2 1287.1,874.6 1290.1,874.9 1293.2,875.3 1296.2,875.7 1299.2,876.0 1302.3,876.4 1305.3,876.8 1308.3,877.1 1311.4,877.5 1314.4,877.8 1317.4,878.2 1320.4,878.5 1323.5,878.9 1326.5,879.2 1329.5,879.6 1332.6,879.9 1335.6,880.2 1338.6,880.6 1341.7,880.9 1344.7,881.2 1347.7,881.5 1350.8,881.9 1353.8,882.2 1356.8,882.5 1359.8,882.8 1362.9,883.1 1365.9,883.4 1368.9,883.7 1372.0,884.0 1375.0,884.3 1378.0,884.6 1381.0,884.9 1384.1,885.1 1387.1,885.4 1390.1,885.7 1393.2,885.9 1396.2,886.2 1399.2,886.5 1402.3,886.7 1405.3,887.0 1408.3,887.2 1411.3,887.5 1414.4,887.7 1417.4,887.9 1420.4,888.2 1423.5,888.4 1426.5,888.6" stroke="#4DBEEE" stroke-width="4"/>
</g>
<g fill="#4DBEEE" shape-rendering="crispEdges">
<circle cx="214.5" cy="740.3" r="5.3"/>
<circle cx="235.0" cy="740.1" r="5.3"/>
<circle cx="255.6" cy="740.0" r="5.3"/>
<circle cx="276.1" cy="740.2" r="5.3"/>
<circle cx="296.7" cy="740.6" r="5.3"/>
<circle cx="317.2" cy="741.1" r="5.3"/>
<circle cx="337.8" cy="741.9" r="5.3"/>
<circle cx="358.3" cy="742.8" r="5.3"/>
<circle cx="378.8" cy="744.0" r="5.3"/>
<circle cx="399.4" cy="745.4" r="5.3"/>
<circle cx="419.9" cy="746.9" r="5.3"/>
<circle cx="440.5" cy="748.7" r="5.3"/>
<circle cx="461.0" cy="750.6" r="5.3"/>
<circle cx="481.6" cy="752.8" r="5.3"/>
<circle cx="502.1" cy="755.2" r="5.3"/>
<circle cx="522.6" cy="757.7" r="5.3"/>
<circle cx="543.2" cy="760.5" r="5.3"/>
<circle cx="563.7" cy="763.4" r="5.3"/>
<circle cx="584.3" cy="766.6" r="5.3"/>
<circle cx="604.8" cy="769.9" r="5.3"/>
<circle cx="625.3" cy="773.4" r="5.3"/>
<circle cx="645.9" cy="777.0" r="5.3"/>
<circle cx="666.4" cy="780.8" r="5.3"/>
<circle cx="687.0" cy="784.5" r="5.3"/>
<circle cx="707.5" cy="788.4" r="5.3"/>
<circle cx="728.1" cy="792.2" r="5.3"/>
<circle cx="748.6" cy="796.1" r="5.3"/>
<circle cx="769.1" cy="800.0" r="5.3"/>
<circle cx="789.7" cy="803.7" r="5.3"/>
<circle cx="810.2" cy="807.5" r="5.3"/>
<circle cx="830.8" cy="811.1" r="5.3"/>
<circle cx="851.3" cy="814.6" r="5.3"/>
<circle cx="871.9" cy="817.9" r="5.3"/>
<circle cx="892.4" cy="821.2" r="5.3"/>
<circle cx="912.9" cy="824.3" r="5.3"/>
<circle cx="933.5" cy="827.3" r="5.3"/>
<circle cx="954.0" cy="830.2" r="5.3"/>
<circle cx="974.6" cy="833.1" r="5.3"/>
<circle cx="995.1" cy="835.9" r="5.3"/>
<circle cx="1015.7" cy="838.7" r="5.3"/>
<circle cx="1036.2" cy="841.5" r="5.3"/>
<circle cx="1056.7" cy="844.2" r="5.3"/>
<circle cx="1077.3" cy="847.0" r="5.3"/>
<circle cx="1097.8" cy="849.7" r="5.3"/>
<circle cx="1118.4" cy="852.5" r="5.3"/>
<circle cx="1138.9" cy="855.2" r="5.3"/>
<circle cx="1159.4" cy="857.9" r="5.3"/>
<circle cx="1180.0" cy="860.7" r="5.3"/>
<circle cx="1200.5" cy="863.4" r="5.3"/>
<circle cx="1221.1" cy="866.1" r="5.3"/>
<circle cx="1241.6" cy="868.8" r="5.3"/>
<circle cx="1262.2" cy="871.4" r="5.3"/>
<circle cx="1282.7" cy="874.0" r="5.3"/>
<circle cx="1303.2" cy="876.5" r="5.3"/>
<circle cx="1323.8" cy="878.9" r="5.3"/>
<circle cx="1344.3" cy="881.2" r="5.3"/>
<circle cx="1364.9" cy="883.3" r="5.3"/>
<circle cx="1385.4" cy="885.3" r="5.3"/>
<circle cx="1406.0" cy="887.0" r="5.3"/>
<circle cx="1426.5" cy="888.6" r="5.3"/>
</g>
<g fill="#262626" stroke="#262626" stroke-width="0.45" font-size="72">
<text x="193" y="1013.9" text-anchor="end">0</text>
<text x="193" y="837.5" text-anchor="end">5</text>
<text x="193" y="661.1" text-anchor="end">10</text>
<text x="193" y="484.7" text-anchor="end">15</text>
<text x="193" y="308.3" text-anchor="end">20</text>
<text x="193" y="131.9" text-anchor="end">25</text>
<text x="214.5" y="1075" text-anchor="middle">4</text>
<text x="618.5" y="1075" text-anchor="middle">6</text>
<text x="1022.5" y="1075" text-anchor="middle">8</text>
<text x="1426.5" y="1075" text-anchor="middle">10</text>
</g>
<text x="820.5" y="1167" font-size="79.2" text-anchor="middle" fill="#262626" stroke="#262626" stroke-width="0.5">Frequency/Hz</text>
<text transform="translate(95,550.5) rotate(-90)" font-size="79.2" text-anchor="middle" fill="#262626" stroke="#262626" stroke-width="0.5">Amplitude response/mm</text>
<text x="820" y="81" font-size="79.2" text-anchor="middle" fill="#000" stroke="#000" stroke-width="0.7">Amplitude response at 100kg</text>
<rect x="1021" y="132" width="381" height="456" fill="#fff" stroke="#111" stroke-width="2" shape-rendering="crispEdges"/>
<g font-size="64.8" fill="#000" stroke="#000" stroke-width="0.8">
<text x="1125.5" y="194.7">Excitation</text>
<text x="1125.5" y="269.7">2000AT</text>
<text x="1125.5" y="344.7">4000AT</text>
<text x="1125.5" y="419.7">6000AT</text>
<text x="1125.5" y="494.7">8000AT</text>
<text x="1125.5" y="569.7">10000AT</text>
</g>
<g fill="none" shape-rendering="crispEdges">
<line x1="1029" y1="172.8" x2="1120.2" y2="172.8" stroke="#0072BD" stroke-width="4"/>
<line x1="1029" y1="247.70000000000002" x2="1120.2" y2="247.70000000000002" stroke="#D95319" stroke-width="7"/>
<line x1="1029" y1="322.6" x2="1120.2" y2="322.6" stroke="#EDB120" stroke-width="7" stroke-dasharray="24.5 23.5"/>
<line x1="1029" y1="397.5" x2="1120.2" y2="397.5" stroke="#7E2F8E" stroke-width="7" stroke-dasharray="7 5.1"/>
<line x1="1029" y1="472.40000000000003" x2="1120.2" y2="472.40000000000003" stroke="#77AC30" stroke-width="7" stroke-dasharray="25 5 12.5 5.5"/>
<line x1="1029" y1="547.3" x2="1120.2" y2="547.3" stroke="#4DBEEE" stroke-width="4"/>
<circle cx="1074.7" cy="547.3" r="5.2" fill="#4DBEEE"/>
</g>
</svg></body></html>
